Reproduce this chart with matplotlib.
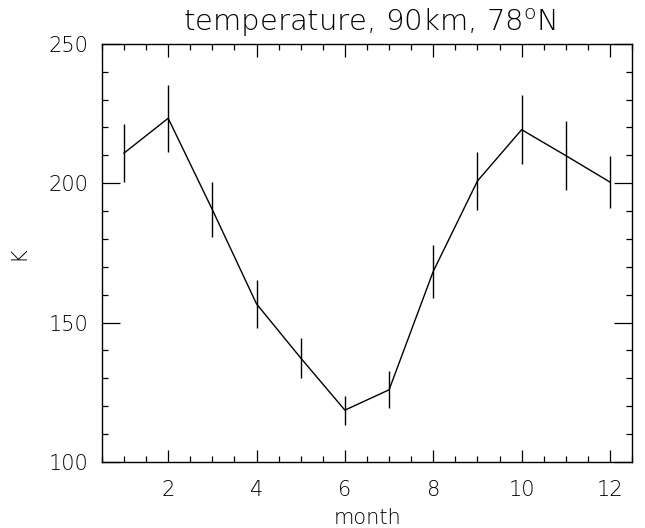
import matplotlib
matplotlib.use("Agg")
import matplotlib.pyplot as plt
from matplotlib.ticker import MultipleLocator

months = [1, 2, 3, 4, 5, 6, 7, 8, 9, 10, 11, 12]
temperature = [210.8, 223.3, 190.5, 156.7, 137.3, 118.6, 125.9, 168.4, 200.8, 219.2, 209.9, 200.4]
errors = [10.5, 12.0, 9.8, 8.5, 7.0, 5.2, 6.7, 9.4, 10.4, 12.3, 12.3, 9.3]

plt.rcParams['font.family'] = ['DejaVu Sans']
plt.rcParams['font.weight'] = 'light'
plt.rcParams['axes.titleweight'] = 'light'
plt.rcParams['axes.labelweight'] = 'light'
plt.rcParams['mathtext.default'] = 'regular'

fig = plt.figure(figsize=(6.45, 5.28), dpi=100)
ax = fig.add_axes([0.158, 0.125, 0.822, 0.792])

ax.errorbar(months, temperature, yerr=errors, color='black', lw=1.0,
            elinewidth=1.0, capsize=0, ecolor='black')

ax.set_xlim(0.5, 12.5)
ax.set_ylim(100, 250)
ax.xaxis.set_major_locator(MultipleLocator(2))
ax.xaxis.set_minor_locator(MultipleLocator(0.5))
ax.yaxis.set_major_locator(MultipleLocator(50))
ax.yaxis.set_minor_locator(MultipleLocator(10))

ax.tick_params(axis='both', which='both', direction='in', top=True, right=True,
               labelsize=15, width=0.9, color='black')
ax.tick_params(axis='x', which='major', length=9, pad=13)
ax.tick_params(axis='x', which='minor', length=4)
ax.tick_params(axis='y', which='major', length=13, pad=10)
ax.tick_params(axis='y', which='minor', length=4.5)

for s in ax.spines.values():
    s.set_linewidth(1.0)
    s.set_color('black')

ax.set_xlabel('month', fontsize=15, labelpad=6, fontweight='light')
ax.set_ylabel('K', fontsize=15, labelpad=14, fontweight='light')
ax.set_title('temperature, 90km, 78$^{o}$N', fontsize=21, pad=9, x=0.505,
             fontweight='light')

fig.savefig('out.png', dpi=100)
